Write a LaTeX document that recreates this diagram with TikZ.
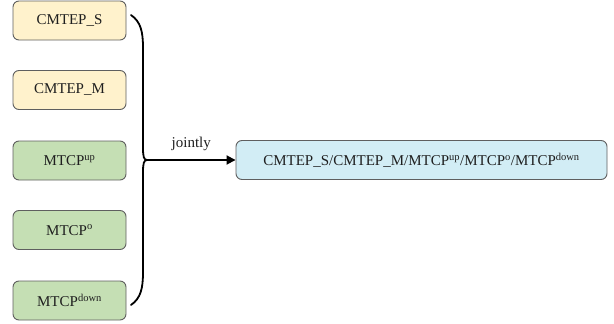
\documentclass[tikz,border=0pt]{standalone}
\usepackage{fontspec}
\setmainfont{Liberation Serif}
\usetikzlibrary{arrows.meta}
\definecolor{boxyellow}{HTML}{FFF2CC}
\definecolor{boxgreen}{HTML}{C5DFB4}
\definecolor{boxblue}{HTML}{D2EDF5}
\definecolor{boxline}{HTML}{5F5F5F}
\begin{document}
\begin{tikzpicture}[x=1pt,y=-1pt,
  base/.style={draw=boxline,line width=0.9pt,rounded corners=6pt,
    minimum height=39pt,inner sep=0pt,font=\fontsize{15}{18}\selectfont,text=black!88},
  leftbox/.style={base,minimum width=113pt},
  brace/.style={line width=1.8pt,line cap=round,line join=round}]
\useasboundingbox (0,0) rectangle (614,324);
% input boxes on the left
\node[leftbox,fill=boxyellow] (s) at (69.5,20.5) {CMTEP\_S};
\node[leftbox,fill=boxyellow] (m) at (69.5,90) {CMTEP\_M};
\node[leftbox,fill=boxgreen] (up) at (69.5,160.5) {MTCP\textsuperscript{up}};
\node[leftbox,fill=boxgreen] (o) at (69.5,230) {MTCP\textsuperscript{o}};
\node[leftbox,fill=boxgreen] (down) at (69.5,300.5) {MTCP\textsuperscript{down}};
% combined box on the right
\node[base,fill=boxblue,minimum width=371pt] (all) at (421.5,160)
  {CMTEP\_S/CMTEP\_M/MTCP\textsuperscript{up}/MTCP\textsuperscript{o}/MTCP\textsuperscript{down}};
% curly brace joining the inputs
\coordinate (bt) at (131,15);
\coordinate (bj) at (147,160);
\coordinate (bb) at (131,305);
\draw[brace] (bt) .. controls (141,22) and (143,32) .. (143,48)
  -- (143,148) .. controls (143,157) and (144,160) .. (bj)
  .. controls (144,160) and (143,163) .. (143,172)
  -- (143,272) .. controls (143,288) and (141,298) .. (bb);
% arrow to the combined box
\draw[line width=1.8pt,-{Triangle[length=9pt,width=9pt]}] (bj) -- (all.west)
  node[midway,above=5pt,font=\fontsize{15}{18}\selectfont,text=black!88] {jointly};
\end{tikzpicture}
\end{document}
